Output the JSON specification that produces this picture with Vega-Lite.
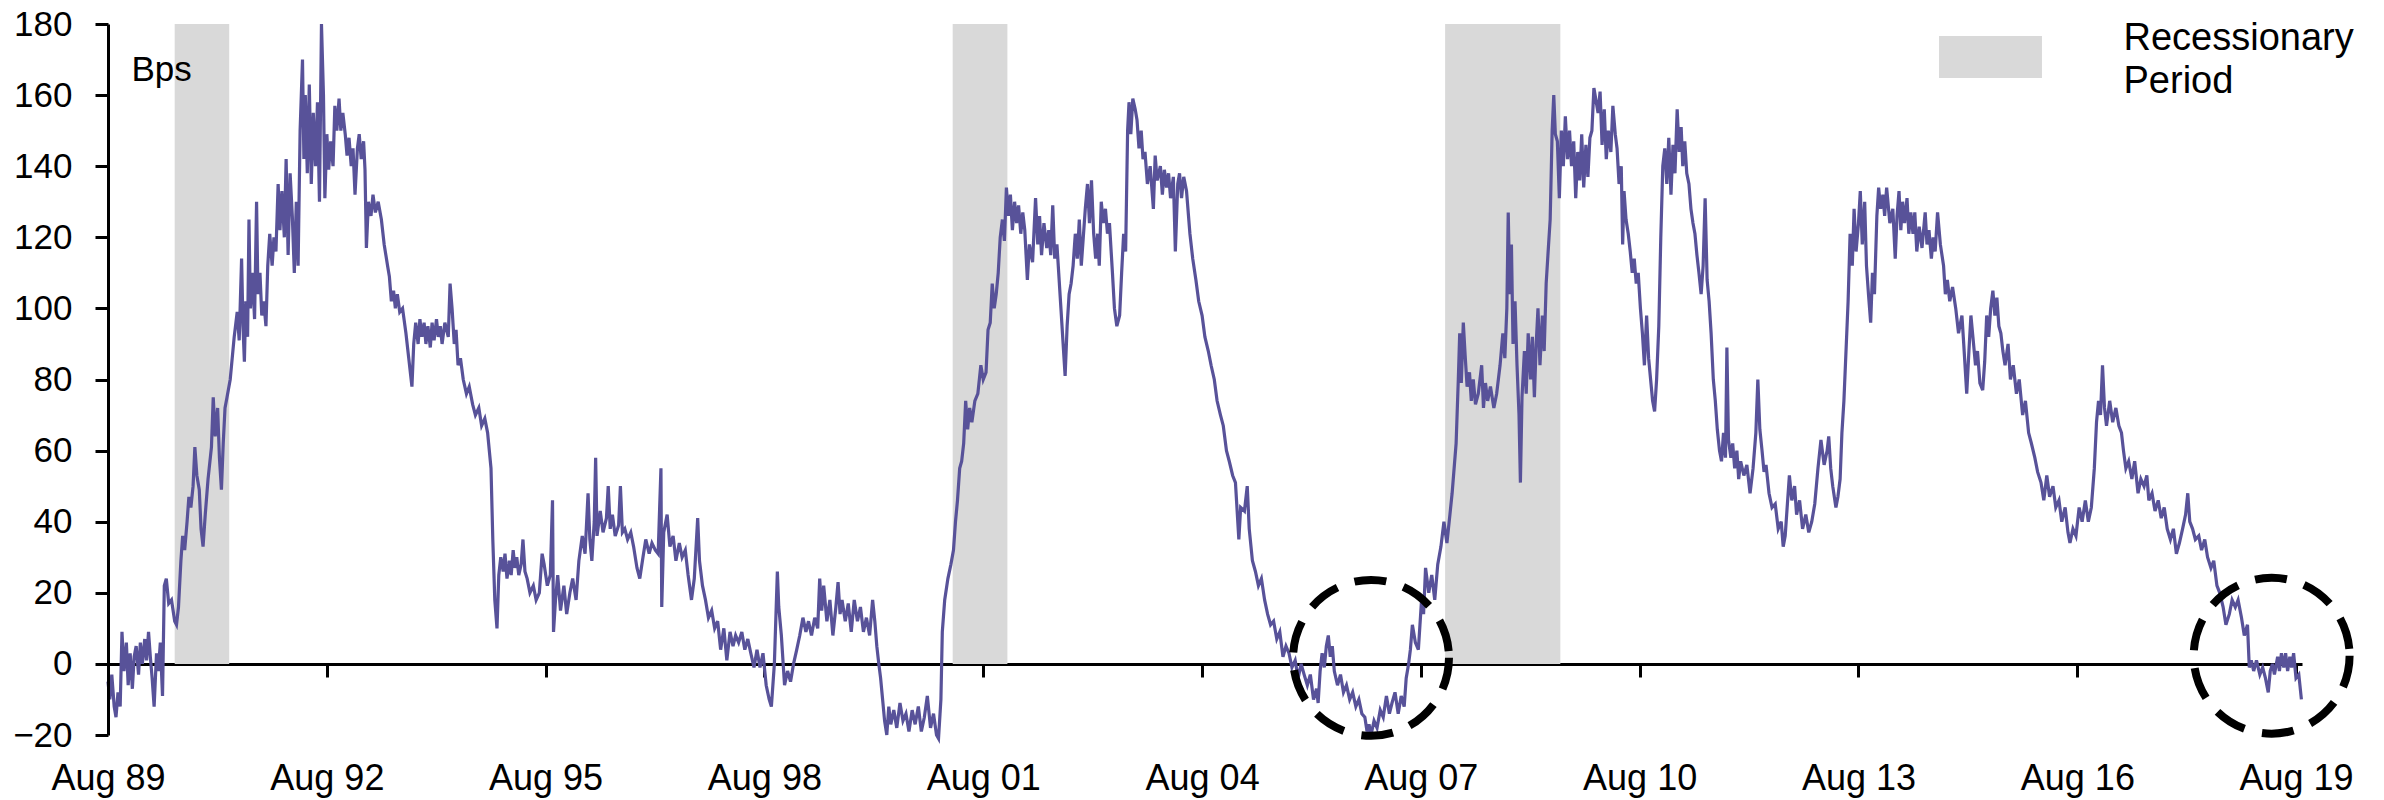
{
"$schema": "https://vega.github.io/schema/vega-lite/v6.json",
"width": 2194,
"height": 711,
"autosize": {"type": "none"},
"padding": {"left": 108, "top": 24, "right": 82, "bottom": 65},
"background": "white",
"config": {"view": {"stroke": null}, "font": "Liberation Sans"},
"datasets": {
"rec": [
{"start": "1990-07-01", "end": "1991-03-31", "label": "Recessionary Period"},
{"start": "2001-03-01", "end": "2001-11-30", "label": "Recessionary Period"},
{"start": "2007-12-01", "end": "2009-06-30", "label": "Recessionary Period"}
],
"circles": [
{"d": "2006-11-25", "v": 1.7},
{"d": "2019-04-01", "v": 2.3}
],
"spread": [
{"d":"1989-08-01","v":-5},{"d":"1989-08-10","v":-10},{"d":"1989-08-20","v":-3},{"d":"1989-09-01","v":-12},{"d":"1989-09-10","v":-15},{"d":"1989-09-20","v":-8},{"d":"1989-10-01","v":-12},{"d":"1989-10-10","v":9},{"d":"1989-10-20","v":-2},{"d":"1989-11-01","v":6},{"d":"1989-11-10","v":-6},{"d":"1989-11-20","v":3},{"d":"1989-12-01","v":-7},{"d":"1989-12-10","v":2},{"d":"1989-12-20","v":5},
{"d":"1990-01-01","v":-3},{"d":"1990-01-10","v":6},{"d":"1990-01-20","v":0},{"d":"1990-02-01","v":7},{"d":"1990-02-10","v":1},{"d":"1990-02-20","v":9},{"d":"1990-03-01","v":2},{"d":"1990-03-10","v":-4},{"d":"1990-03-20","v":-12},{"d":"1990-04-01","v":3},{"d":"1990-04-10","v":-2},{"d":"1990-04-20","v":6},{"d":"1990-05-01","v":-9},{"d":"1990-05-10","v":22},{"d":"1990-05-20","v":24},{"d":"1990-06-01","v":17},{"d":"1990-06-15","v":18},{"d":"1990-07-01","v":12},{"d":"1990-07-10","v":11},{"d":"1990-07-20","v":16},{"d":"1990-08-01","v":29},{"d":"1990-08-10","v":36},{"d":"1990-08-20","v":32},{"d":"1990-09-01","v":40},{"d":"1990-09-10","v":47},{"d":"1990-09-20","v":44},{"d":"1990-10-01","v":50},{"d":"1990-10-10","v":61},{"d":"1990-10-20","v":53},{"d":"1990-11-01","v":49},{"d":"1990-11-10","v":38},{"d":"1990-11-20","v":33},{"d":"1990-12-01","v":42},{"d":"1990-12-15","v":52},
{"d":"1991-01-01","v":61},{"d":"1991-01-10","v":75},{"d":"1991-01-20","v":64},{"d":"1991-02-01","v":72},{"d":"1991-02-10","v":58},{"d":"1991-02-20","v":49},{"d":"1991-03-01","v":62},{"d":"1991-03-10","v":72},{"d":"1991-03-20","v":75},{"d":"1991-04-05","v":80},{"d":"1991-04-15","v":86},{"d":"1991-04-25","v":92},{"d":"1991-05-10","v":99},{"d":"1991-05-20","v":91},{"d":"1991-06-01","v":114},{"d":"1991-06-08","v":95},{"d":"1991-06-15","v":85},{"d":"1991-06-22","v":102},{"d":"1991-07-01","v":92},{"d":"1991-07-08","v":125},{"d":"1991-07-15","v":100},{"d":"1991-07-25","v":110},{"d":"1991-08-05","v":97},{"d":"1991-08-15","v":130},{"d":"1991-08-22","v":104},{"d":"1991-09-01","v":110},{"d":"1991-09-10","v":98},{"d":"1991-09-20","v":102},{"d":"1991-10-01","v":95},{"d":"1991-10-10","v":112},{"d":"1991-10-20","v":121},{"d":"1991-11-01","v":112},{"d":"1991-11-10","v":120},{"d":"1991-11-20","v":116},{"d":"1991-12-01","v":135},{"d":"1991-12-10","v":122},{"d":"1991-12-20","v":133},
{"d":"1992-01-01","v":120},{"d":"1992-01-10","v":142},{"d":"1992-01-20","v":115},{"d":"1992-01-30","v":138},{"d":"1992-02-10","v":126},{"d":"1992-02-20","v":110},{"d":"1992-03-01","v":130},{"d":"1992-03-10","v":112},{"d":"1992-03-20","v":150},{"d":"1992-04-01","v":170},{"d":"1992-04-08","v":142},{"d":"1992-04-15","v":160},{"d":"1992-04-25","v":138},{"d":"1992-05-05","v":163},{"d":"1992-05-15","v":135},{"d":"1992-05-25","v":155},{"d":"1992-06-05","v":140},{"d":"1992-06-15","v":158},{"d":"1992-06-25","v":130},{"d":"1992-07-05","v":180},{"d":"1992-07-15","v":160},{"d":"1992-07-22","v":131},{"d":"1992-08-01","v":149},{"d":"1992-08-10","v":139},{"d":"1992-08-20","v":147},{"d":"1992-09-01","v":140},{"d":"1992-09-10","v":157},{"d":"1992-09-20","v":150},{"d":"1992-10-01","v":159},{"d":"1992-10-10","v":150},{"d":"1992-10-20","v":155},{"d":"1992-11-01","v":149},{"d":"1992-11-10","v":143},{"d":"1992-11-20","v":148},{"d":"1992-12-01","v":140},{"d":"1992-12-10","v":145},{"d":"1992-12-20","v":132},
{"d":"1993-01-01","v":145},{"d":"1993-01-10","v":149},{"d":"1993-01-20","v":142},{"d":"1993-02-01","v":147},{"d":"1993-02-08","v":139},{"d":"1993-02-15","v":117},{"d":"1993-02-25","v":130},{"d":"1993-03-10","v":126},{"d":"1993-03-20","v":132},{"d":"1993-04-01","v":127},{"d":"1993-04-15","v":130},{"d":"1993-05-01","v":125},{"d":"1993-05-15","v":118},{"d":"1993-06-01","v":112},{"d":"1993-06-10","v":109},{"d":"1993-06-20","v":102},{"d":"1993-07-01","v":105},{"d":"1993-07-10","v":100},{"d":"1993-07-20","v":104},{"d":"1993-08-01","v":99},{"d":"1993-08-15","v":100},{"d":"1993-09-01","v":93},{"d":"1993-09-15","v":86},{"d":"1993-10-01","v":78},{"d":"1993-10-10","v":90},{"d":"1993-10-20","v":96},{"d":"1993-11-01","v":90},{"d":"1993-11-10","v":97},{"d":"1993-11-20","v":92},{"d":"1993-12-01","v":96},{"d":"1993-12-10","v":90},{"d":"1993-12-20","v":95},
{"d":"1994-01-01","v":89},{"d":"1994-01-10","v":96},{"d":"1994-01-20","v":91},{"d":"1994-02-01","v":97},{"d":"1994-02-10","v":92},{"d":"1994-02-20","v":95},{"d":"1994-03-01","v":90},{"d":"1994-03-15","v":96},{"d":"1994-04-01","v":92},{"d":"1994-04-10","v":107},{"d":"1994-04-20","v":100},{"d":"1994-05-01","v":90},{"d":"1994-05-10","v":94},{"d":"1994-05-20","v":84},{"d":"1994-06-01","v":86},{"d":"1994-06-15","v":80},{"d":"1994-07-01","v":76},{"d":"1994-07-15","v":78},{"d":"1994-08-01","v":73},{"d":"1994-08-15","v":70},{"d":"1994-09-01","v":72},{"d":"1994-09-15","v":67},{"d":"1994-10-01","v":69},{"d":"1994-10-15","v":65},{"d":"1994-11-01","v":55},{"d":"1994-11-10","v":35},{"d":"1994-11-20","v":18},{"d":"1994-12-01","v":10},{"d":"1994-12-10","v":25},{"d":"1994-12-20","v":30},
{"d":"1995-01-01","v":26},{"d":"1995-01-10","v":31},{"d":"1995-01-20","v":24},{"d":"1995-02-01","v":29},{"d":"1995-02-10","v":25},{"d":"1995-02-20","v":32},{"d":"1995-03-01","v":27},{"d":"1995-03-10","v":30},{"d":"1995-03-20","v":25},{"d":"1995-04-01","v":28},{"d":"1995-04-10","v":35},{"d":"1995-04-20","v":26},{"d":"1995-05-01","v":24},{"d":"1995-05-15","v":20},{"d":"1995-06-01","v":22},{"d":"1995-06-15","v":18},{"d":"1995-07-01","v":20},{"d":"1995-07-15","v":31},{"d":"1995-07-25","v":28},{"d":"1995-08-10","v":22},{"d":"1995-08-25","v":25},{"d":"1995-09-05","v":46},{"d":"1995-09-10","v":9},{"d":"1995-09-20","v":18},{"d":"1995-10-01","v":25},{"d":"1995-10-15","v":15},{"d":"1995-11-01","v":22},{"d":"1995-11-15","v":14},{"d":"1995-12-01","v":20},{"d":"1995-12-15","v":24},
{"d":"1996-01-01","v":18},{"d":"1996-01-15","v":29},{"d":"1996-02-01","v":36},{"d":"1996-02-15","v":31},{"d":"1996-03-01","v":48},{"d":"1996-03-10","v":35},{"d":"1996-03-20","v":29},{"d":"1996-04-01","v":40},{"d":"1996-04-08","v":58},{"d":"1996-04-15","v":36},{"d":"1996-05-01","v":43},{"d":"1996-05-15","v":37},{"d":"1996-06-01","v":41},{"d":"1996-06-10","v":50},{"d":"1996-06-20","v":38},{"d":"1996-07-01","v":42},{"d":"1996-07-15","v":36},{"d":"1996-08-01","v":39},{"d":"1996-08-10","v":50},{"d":"1996-08-20","v":37},{"d":"1996-09-01","v":38},{"d":"1996-09-15","v":35},{"d":"1996-10-01","v":37},{"d":"1996-10-15","v":33},{"d":"1996-11-01","v":27},{"d":"1996-11-15","v":24},{"d":"1996-12-01","v":30},{"d":"1996-12-15","v":35},
{"d":"1997-01-01","v":31},{"d":"1997-01-15","v":34},{"d":"1997-02-01","v":32},{"d":"1997-02-15","v":31},{"d":"1997-03-01","v":55},{"d":"1997-03-05","v":16},{"d":"1997-03-15","v":37},{"d":"1997-04-01","v":42},{"d":"1997-04-15","v":33},{"d":"1997-05-01","v":36},{"d":"1997-05-15","v":29},{"d":"1997-06-01","v":34},{"d":"1997-06-15","v":30},{"d":"1997-07-01","v":32},{"d":"1997-07-15","v":25},{"d":"1997-08-01","v":18},{"d":"1997-08-15","v":24},{"d":"1997-09-01","v":41},{"d":"1997-09-10","v":29},{"d":"1997-09-25","v":22},{"d":"1997-10-10","v":18},{"d":"1997-10-25","v":13},{"d":"1997-11-10","v":15},{"d":"1997-11-25","v":10},{"d":"1997-12-10","v":12},{"d":"1997-12-25","v":4},
{"d":"1998-01-10","v":10},{"d":"1998-01-25","v":1},{"d":"1998-02-10","v":9},{"d":"1998-02-25","v":5},{"d":"1998-03-10","v":8},{"d":"1998-03-25","v":6},{"d":"1998-04-10","v":9},{"d":"1998-04-25","v":4},{"d":"1998-05-10","v":7},{"d":"1998-05-25","v":3},{"d":"1998-06-10","v":-1},{"d":"1998-06-25","v":4},{"d":"1998-07-10","v":-1},{"d":"1998-07-25","v":3},{"d":"1998-08-10","v":-6},{"d":"1998-08-25","v":-10},{"d":"1998-09-05","v":-12},{"d":"1998-09-20","v":0},{"d":"1998-10-05","v":26},{"d":"1998-10-12","v":16},{"d":"1998-10-25","v":8},{"d":"1998-11-10","v":-6},{"d":"1998-11-25","v":-2},{"d":"1998-12-10","v":-5},{"d":"1998-12-25","v":0},
{"d":"1999-01-10","v":4},{"d":"1999-01-25","v":8},{"d":"1999-02-10","v":13},{"d":"1999-02-25","v":9},{"d":"1999-03-10","v":12},{"d":"1999-03-25","v":8},{"d":"1999-04-10","v":13},{"d":"1999-04-25","v":10},{"d":"1999-05-05","v":24},{"d":"1999-05-15","v":15},{"d":"1999-05-25","v":22},{"d":"1999-06-10","v":12},{"d":"1999-06-25","v":18},{"d":"1999-07-10","v":8},{"d":"1999-07-25","v":16},{"d":"1999-08-05","v":23},{"d":"1999-08-15","v":14},{"d":"1999-08-25","v":18},{"d":"1999-09-10","v":12},{"d":"1999-09-25","v":17},{"d":"1999-10-10","v":9},{"d":"1999-10-25","v":18},{"d":"1999-11-10","v":12},{"d":"1999-11-25","v":16},{"d":"1999-12-10","v":9},{"d":"1999-12-25","v":13},
{"d":"2000-01-10","v":8},{"d":"2000-01-25","v":18},{"d":"2000-02-05","v":12},{"d":"2000-02-15","v":5},{"d":"2000-02-25","v":0},{"d":"2000-03-05","v":-4},{"d":"2000-03-15","v":-10},{"d":"2000-03-25","v":-16},{"d":"2000-04-05","v":-20},{"d":"2000-04-15","v":-12},{"d":"2000-04-25","v":-17},{"d":"2000-05-10","v":-13},{"d":"2000-05-25","v":-18},{"d":"2000-06-10","v":-11},{"d":"2000-06-25","v":-16},{"d":"2000-07-10","v":-14},{"d":"2000-07-25","v":-19},{"d":"2000-08-10","v":-13},{"d":"2000-08-25","v":-17},{"d":"2000-09-10","v":-12},{"d":"2000-09-25","v":-19},{"d":"2000-10-10","v":-15},{"d":"2000-10-25","v":-9},{"d":"2000-11-10","v":-18},{"d":"2000-11-25","v":-14},{"d":"2000-12-10","v":-20},{"d":"2000-12-20","v":-21},
{"d":"2001-01-01","v":-10},{"d":"2001-01-08","v":9},{"d":"2001-01-20","v":18},{"d":"2001-02-05","v":24},{"d":"2001-02-20","v":28},{"d":"2001-03-05","v":32},{"d":"2001-03-15","v":40},{"d":"2001-03-25","v":46},{"d":"2001-04-05","v":55},{"d":"2001-04-15","v":57},{"d":"2001-04-25","v":62},{"d":"2001-05-05","v":74},{"d":"2001-05-15","v":66},{"d":"2001-05-25","v":72},{"d":"2001-06-05","v":68},{"d":"2001-06-20","v":74},{"d":"2001-07-05","v":76},{"d":"2001-07-20","v":84},{"d":"2001-08-01","v":80},{"d":"2001-08-15","v":82},{"d":"2001-08-25","v":94},{"d":"2001-09-05","v":96},{"d":"2001-09-15","v":107},{"d":"2001-09-25","v":100},{"d":"2001-10-05","v":104},{"d":"2001-10-15","v":110},{"d":"2001-10-25","v":120},{"d":"2001-11-05","v":125},{"d":"2001-11-15","v":119},{"d":"2001-11-25","v":134},{"d":"2001-12-05","v":126},{"d":"2001-12-15","v":132},{"d":"2001-12-25","v":122},
{"d":"2002-01-05","v":130},{"d":"2002-01-15","v":124},{"d":"2002-01-25","v":129},{"d":"2002-02-05","v":121},{"d":"2002-02-15","v":127},{"d":"2002-02-25","v":122},{"d":"2002-03-10","v":108},{"d":"2002-03-20","v":118},{"d":"2002-04-05","v":113},{"d":"2002-04-20","v":131},{"d":"2002-05-01","v":118},{"d":"2002-05-10","v":126},{"d":"2002-05-20","v":115},{"d":"2002-06-01","v":124},{"d":"2002-06-15","v":117},{"d":"2002-06-25","v":122},{"d":"2002-07-05","v":115},{"d":"2002-07-15","v":129},{"d":"2002-07-25","v":114},{"d":"2002-08-05","v":118},{"d":"2002-08-15","v":109},{"d":"2002-08-25","v":100},{"d":"2002-09-05","v":90},{"d":"2002-09-15","v":81},{"d":"2002-09-25","v":95},{"d":"2002-10-05","v":104},{"d":"2002-10-15","v":107},{"d":"2002-10-25","v":112},{"d":"2002-11-05","v":121},{"d":"2002-11-15","v":114},{"d":"2002-11-25","v":125},{"d":"2002-12-05","v":112},{"d":"2002-12-15","v":120},{"d":"2002-12-25","v":128},
{"d":"2003-01-05","v":135},{"d":"2003-01-15","v":124},{"d":"2003-01-25","v":136},{"d":"2003-02-05","v":121},{"d":"2003-02-15","v":114},{"d":"2003-02-25","v":121},{"d":"2003-03-05","v":112},{"d":"2003-03-15","v":130},{"d":"2003-03-25","v":124},{"d":"2003-04-05","v":128},{"d":"2003-04-15","v":121},{"d":"2003-04-25","v":124},{"d":"2003-05-10","v":110},{"d":"2003-05-20","v":100},{"d":"2003-06-01","v":95},{"d":"2003-06-15","v":98},{"d":"2003-06-25","v":110},{"d":"2003-07-05","v":121},{"d":"2003-07-15","v":116},{"d":"2003-07-25","v":150},{"d":"2003-08-01","v":158},{"d":"2003-08-10","v":149},{"d":"2003-08-20","v":159},{"d":"2003-09-01","v":156},{"d":"2003-09-10","v":153},{"d":"2003-09-20","v":145},{"d":"2003-10-01","v":150},{"d":"2003-10-10","v":142},{"d":"2003-10-20","v":144},{"d":"2003-11-01","v":135},{"d":"2003-11-15","v":140},{"d":"2003-12-01","v":128},{"d":"2003-12-10","v":143},{"d":"2003-12-20","v":136},
{"d":"2004-01-05","v":140},{"d":"2004-01-15","v":132},{"d":"2004-01-25","v":139},{"d":"2004-02-05","v":134},{"d":"2004-02-15","v":138},{"d":"2004-02-25","v":131},{"d":"2004-03-10","v":137},{"d":"2004-03-20","v":116},{"d":"2004-04-01","v":135},{"d":"2004-04-10","v":138},{"d":"2004-04-20","v":131},{"d":"2004-05-01","v":137},{"d":"2004-05-15","v":133},{"d":"2004-06-01","v":121},{"d":"2004-06-15","v":114},{"d":"2004-07-01","v":108},{"d":"2004-07-15","v":102},{"d":"2004-08-01","v":98},{"d":"2004-08-15","v":92},{"d":"2004-09-01","v":88},{"d":"2004-09-15","v":84},{"d":"2004-10-01","v":80},{"d":"2004-10-15","v":74},{"d":"2004-11-01","v":70},{"d":"2004-11-15","v":67},{"d":"2004-12-01","v":60},{"d":"2004-12-15","v":57},
{"d":"2005-01-01","v":53},{"d":"2005-01-15","v":51},{"d":"2005-02-01","v":35},{"d":"2005-02-10","v":44},{"d":"2005-03-01","v":43},{"d":"2005-03-15","v":50},{"d":"2005-03-25","v":38},{"d":"2005-04-10","v":29},{"d":"2005-04-25","v":26},{"d":"2005-05-10","v":22},{"d":"2005-05-25","v":24},{"d":"2005-06-10","v":18},{"d":"2005-06-25","v":14},{"d":"2005-07-10","v":11},{"d":"2005-07-25","v":12},{"d":"2005-08-10","v":7},{"d":"2005-08-25","v":9},{"d":"2005-09-10","v":2},{"d":"2005-09-25","v":5},{"d":"2005-10-10","v":3},{"d":"2005-10-25","v":-1},{"d":"2005-11-10","v":1},{"d":"2005-11-25","v":-4},{"d":"2005-12-10","v":0},{"d":"2005-12-25","v":-3},
{"d":"2006-01-10","v":-6},{"d":"2006-01-25","v":-3},{"d":"2006-02-10","v":-10},{"d":"2006-02-25","v":-7},{"d":"2006-03-05","v":-11},{"d":"2006-03-15","v":-2},{"d":"2006-03-25","v":3},{"d":"2006-04-05","v":-1},{"d":"2006-04-15","v":5},{"d":"2006-04-25","v":8},{"d":"2006-05-05","v":2},{"d":"2006-05-15","v":5},{"d":"2006-05-25","v":-2},{"d":"2006-06-10","v":-6},{"d":"2006-06-25","v":-3},{"d":"2006-07-10","v":-8},{"d":"2006-07-25","v":-6},{"d":"2006-08-10","v":-10},{"d":"2006-08-25","v":-8},{"d":"2006-09-10","v":-12},{"d":"2006-09-25","v":-10},{"d":"2006-10-10","v":-14},{"d":"2006-10-25","v":-15},{"d":"2006-11-05","v":-19},{"d":"2006-11-15","v":-17},{"d":"2006-11-25","v":-20},{"d":"2006-12-10","v":-16},{"d":"2006-12-25","v":-18},
{"d":"2007-01-10","v":-13},{"d":"2007-01-25","v":-15},{"d":"2007-02-10","v":-9},{"d":"2007-02-25","v":-14},{"d":"2007-03-10","v":-11},{"d":"2007-03-25","v":-8},{"d":"2007-04-10","v":-14},{"d":"2007-04-25","v":-9},{"d":"2007-05-10","v":-12},{"d":"2007-05-20","v":-4},{"d":"2007-06-01","v":0},{"d":"2007-06-10","v":4},{"d":"2007-06-20","v":11},{"d":"2007-07-05","v":6},{"d":"2007-07-20","v":4},{"d":"2007-08-05","v":18},{"d":"2007-08-15","v":14},{"d":"2007-08-25","v":27},{"d":"2007-09-10","v":20},{"d":"2007-09-25","v":25},{"d":"2007-10-10","v":18},{"d":"2007-10-25","v":28},{"d":"2007-11-10","v":33},{"d":"2007-11-25","v":40},{"d":"2007-12-10","v":34},{"d":"2007-12-25","v":42},
{"d":"2008-01-05","v":48},{"d":"2008-01-15","v":55},{"d":"2008-01-25","v":62},{"d":"2008-02-05","v":80},{"d":"2008-02-12","v":93},{"d":"2008-02-20","v":79},{"d":"2008-03-01","v":96},{"d":"2008-03-10","v":87},{"d":"2008-03-20","v":78},{"d":"2008-04-01","v":82},{"d":"2008-04-10","v":74},{"d":"2008-04-20","v":80},{"d":"2008-05-01","v":73},{"d":"2008-05-15","v":76},{"d":"2008-06-01","v":84},{"d":"2008-06-10","v":72},{"d":"2008-06-20","v":79},{"d":"2008-07-01","v":74},{"d":"2008-07-15","v":78},{"d":"2008-08-01","v":72},{"d":"2008-08-15","v":76},{"d":"2008-09-01","v":84},{"d":"2008-09-15","v":93},{"d":"2008-09-25","v":86},{"d":"2008-10-05","v":100},{"d":"2008-10-12","v":127},{"d":"2008-10-20","v":104},{"d":"2008-10-28","v":118},{"d":"2008-11-05","v":90},{"d":"2008-11-15","v":102},{"d":"2008-11-25","v":84},{"d":"2008-12-05","v":70},{"d":"2008-12-12","v":51},{"d":"2008-12-20","v":75},
{"d":"2009-01-01","v":88},{"d":"2009-01-10","v":76},{"d":"2009-01-20","v":93},{"d":"2009-02-01","v":80},{"d":"2009-02-10","v":92},{"d":"2009-02-20","v":75},{"d":"2009-03-01","v":90},{"d":"2009-03-10","v":100},{"d":"2009-03-20","v":84},{"d":"2009-04-01","v":98},{"d":"2009-04-10","v":88},{"d":"2009-04-20","v":107},{"d":"2009-05-01","v":117},{"d":"2009-05-10","v":125},{"d":"2009-05-20","v":150},{"d":"2009-05-28","v":160},{"d":"2009-06-05","v":149},{"d":"2009-06-15","v":147},{"d":"2009-06-25","v":131},{"d":"2009-07-05","v":150},{"d":"2009-07-15","v":140},{"d":"2009-07-25","v":154},{"d":"2009-08-05","v":142},{"d":"2009-08-15","v":150},{"d":"2009-08-25","v":140},{"d":"2009-09-05","v":147},{"d":"2009-09-15","v":131},{"d":"2009-09-25","v":144},{"d":"2009-10-05","v":136},{"d":"2009-10-15","v":149},{"d":"2009-10-25","v":134},{"d":"2009-11-05","v":146},{"d":"2009-11-15","v":137},{"d":"2009-11-25","v":148},{"d":"2009-12-05","v":150},{"d":"2009-12-15","v":162},
{"d":"2010-01-05","v":155},{"d":"2010-01-15","v":161},{"d":"2010-01-25","v":146},{"d":"2010-02-05","v":156},{"d":"2010-02-15","v":142},{"d":"2010-02-25","v":150},{"d":"2010-03-10","v":144},{"d":"2010-03-20","v":157},{"d":"2010-04-01","v":149},{"d":"2010-04-10","v":145},{"d":"2010-04-20","v":135},{"d":"2010-05-01","v":140},{"d":"2010-05-08","v":118},{"d":"2010-05-15","v":133},{"d":"2010-05-25","v":125},{"d":"2010-06-05","v":121},{"d":"2010-06-15","v":116},{"d":"2010-06-25","v":110},{"d":"2010-07-05","v":114},{"d":"2010-07-15","v":107},{"d":"2010-07-25","v":110},{"d":"2010-08-05","v":100},{"d":"2010-08-15","v":93},{"d":"2010-08-25","v":84},{"d":"2010-09-05","v":98},{"d":"2010-09-15","v":86},{"d":"2010-09-25","v":80},{"d":"2010-10-05","v":74},{"d":"2010-10-15","v":71},{"d":"2010-10-25","v":80},{"d":"2010-11-05","v":95},{"d":"2010-11-15","v":120},{"d":"2010-11-25","v":140},{"d":"2010-12-05","v":145},{"d":"2010-12-15","v":135},{"d":"2010-12-25","v":148},
{"d":"2011-01-05","v":132},{"d":"2011-01-15","v":146},{"d":"2011-01-25","v":138},{"d":"2011-02-05","v":156},{"d":"2011-02-15","v":144},{"d":"2011-02-25","v":151},{"d":"2011-03-05","v":140},{"d":"2011-03-15","v":147},{"d":"2011-03-25","v":138},{"d":"2011-04-05","v":135},{"d":"2011-04-15","v":128},{"d":"2011-04-25","v":124},{"d":"2011-05-05","v":121},{"d":"2011-05-15","v":115},{"d":"2011-05-25","v":110},{"d":"2011-06-05","v":104},{"d":"2011-06-15","v":112},{"d":"2011-06-25","v":131},{"d":"2011-07-05","v":108},{"d":"2011-07-15","v":102},{"d":"2011-07-25","v":93},{"d":"2011-08-05","v":80},{"d":"2011-08-15","v":74},{"d":"2011-08-25","v":66},{"d":"2011-09-05","v":60},{"d":"2011-09-15","v":57},{"d":"2011-09-25","v":65},{"d":"2011-10-05","v":58},{"d":"2011-10-12","v":89},{"d":"2011-10-20","v":63},{"d":"2011-11-01","v":58},{"d":"2011-11-10","v":62},{"d":"2011-11-20","v":55},{"d":"2011-12-01","v":60},{"d":"2011-12-10","v":52},{"d":"2011-12-20","v":57},
{"d":"2012-01-05","v":53},{"d":"2012-01-20","v":56},{"d":"2012-02-05","v":48},{"d":"2012-02-20","v":55},{"d":"2012-03-05","v":65},{"d":"2012-03-15","v":80},{"d":"2012-03-25","v":66},{"d":"2012-04-05","v":60},{"d":"2012-04-15","v":54},{"d":"2012-04-25","v":56},{"d":"2012-05-10","v":48},{"d":"2012-05-25","v":44},{"d":"2012-06-10","v":45},{"d":"2012-06-25","v":38},{"d":"2012-07-10","v":40},{"d":"2012-07-20","v":33},{"d":"2012-07-30","v":36},{"d":"2012-08-10","v":45},{"d":"2012-08-20","v":53},{"d":"2012-09-01","v":46},{"d":"2012-09-15","v":50},{"d":"2012-09-25","v":42},{"d":"2012-10-10","v":46},{"d":"2012-10-25","v":38},{"d":"2012-11-10","v":42},{"d":"2012-11-25","v":37},{"d":"2012-12-10","v":40},{"d":"2012-12-25","v":45},
{"d":"2013-01-10","v":55},{"d":"2013-01-25","v":63},{"d":"2013-02-10","v":56},{"d":"2013-02-25","v":60},{"d":"2013-03-05","v":64},{"d":"2013-03-15","v":55},{"d":"2013-03-25","v":50},{"d":"2013-04-10","v":44},{"d":"2013-04-20","v":47},{"d":"2013-05-01","v":52},{"d":"2013-05-10","v":65},{"d":"2013-05-20","v":74},{"d":"2013-06-01","v":90},{"d":"2013-06-10","v":102},{"d":"2013-06-20","v":121},{"d":"2013-07-01","v":112},{"d":"2013-07-10","v":128},{"d":"2013-07-20","v":116},{"d":"2013-08-01","v":124},{"d":"2013-08-10","v":133},{"d":"2013-08-20","v":118},{"d":"2013-09-01","v":130},{"d":"2013-09-10","v":112},{"d":"2013-09-20","v":104},{"d":"2013-10-01","v":96},{"d":"2013-10-10","v":110},{"d":"2013-10-20","v":104},{"d":"2013-11-01","v":126},{"d":"2013-11-10","v":134},{"d":"2013-11-20","v":128},{"d":"2013-12-01","v":132},{"d":"2013-12-10","v":126},{"d":"2013-12-20","v":134},
{"d":"2014-01-05","v":124},{"d":"2014-01-20","v":128},{"d":"2014-02-01","v":114},{"d":"2014-02-10","v":126},{"d":"2014-02-20","v":133},{"d":"2014-03-01","v":122},{"d":"2014-03-10","v":130},{"d":"2014-03-20","v":124},{"d":"2014-04-01","v":131},{"d":"2014-04-10","v":121},{"d":"2014-04-20","v":127},{"d":"2014-05-01","v":121},{"d":"2014-05-10","v":127},{"d":"2014-05-20","v":116},{"d":"2014-06-01","v":123},{"d":"2014-06-15","v":117},{"d":"2014-07-01","v":127},{"d":"2014-07-10","v":118},{"d":"2014-07-20","v":122},{"d":"2014-08-01","v":114},{"d":"2014-08-10","v":120},{"d":"2014-08-20","v":116},{"d":"2014-09-01","v":127},{"d":"2014-09-15","v":118},{"d":"2014-10-01","v":112},{"d":"2014-10-10","v":104},{"d":"2014-10-20","v":108},{"d":"2014-11-01","v":102},{"d":"2014-11-15","v":106},{"d":"2014-12-01","v":100},{"d":"2014-12-15","v":93},
{"d":"2015-01-01","v":98},{"d":"2015-01-10","v":90},{"d":"2015-01-25","v":76},{"d":"2015-02-05","v":88},{"d":"2015-02-15","v":98},{"d":"2015-02-25","v":92},{"d":"2015-03-10","v":84},{"d":"2015-03-20","v":88},{"d":"2015-04-01","v":79},{"d":"2015-04-15","v":77},{"d":"2015-04-25","v":85},{"d":"2015-05-05","v":98},{"d":"2015-05-15","v":92},{"d":"2015-05-25","v":100},{"d":"2015-06-05","v":105},{"d":"2015-06-15","v":98},{"d":"2015-06-25","v":103},{"d":"2015-07-05","v":95},{"d":"2015-07-15","v":93},{"d":"2015-07-25","v":88},{"d":"2015-08-05","v":84},{"d":"2015-08-20","v":90},{"d":"2015-09-01","v":80},{"d":"2015-09-15","v":84},{"d":"2015-10-01","v":76},{"d":"2015-10-15","v":80},{"d":"2015-11-01","v":70},{"d":"2015-11-15","v":74},{"d":"2015-12-01","v":65},{"d":"2015-12-15","v":62},
{"d":"2016-01-01","v":58},{"d":"2016-01-15","v":54},{"d":"2016-02-01","v":51},{"d":"2016-02-15","v":46},{"d":"2016-03-01","v":53},{"d":"2016-03-15","v":47},{"d":"2016-04-01","v":50},{"d":"2016-04-15","v":44},{"d":"2016-05-01","v":46},{"d":"2016-05-15","v":40},{"d":"2016-06-01","v":44},{"d":"2016-06-15","v":37},{"d":"2016-06-25","v":34},{"d":"2016-07-10","v":38},{"d":"2016-07-25","v":36},{"d":"2016-08-10","v":44},{"d":"2016-08-25","v":40},{"d":"2016-09-10","v":46},{"d":"2016-09-25","v":40},{"d":"2016-10-10","v":44},{"d":"2016-10-25","v":55},{"d":"2016-11-05","v":68},{"d":"2016-11-15","v":74},{"d":"2016-11-25","v":70},{"d":"2016-12-05","v":84},{"d":"2016-12-15","v":72},{"d":"2016-12-25","v":67},
{"d":"2017-01-10","v":74},{"d":"2017-01-25","v":68},{"d":"2017-02-10","v":72},{"d":"2017-02-25","v":67},{"d":"2017-03-10","v":65},{"d":"2017-03-20","v":60},{"d":"2017-04-01","v":55},{"d":"2017-04-15","v":57},{"d":"2017-05-01","v":52},{"d":"2017-05-15","v":57},{"d":"2017-06-01","v":48},{"d":"2017-06-15","v":52},{"d":"2017-07-01","v":50},{"d":"2017-07-15","v":53},{"d":"2017-07-25","v":46},{"d":"2017-08-10","v":48},{"d":"2017-08-25","v":43},{"d":"2017-09-10","v":46},{"d":"2017-09-25","v":41},{"d":"2017-10-10","v":44},{"d":"2017-10-25","v":38},{"d":"2017-11-10","v":35},{"d":"2017-11-25","v":38},{"d":"2017-12-10","v":31},{"d":"2017-12-25","v":34},
{"d":"2018-01-10","v":38},{"d":"2018-01-25","v":42},{"d":"2018-02-05","v":48},{"d":"2018-02-15","v":40},{"d":"2018-03-01","v":38},{"d":"2018-03-15","v":35},{"d":"2018-04-01","v":36},{"d":"2018-04-15","v":32},{"d":"2018-05-01","v":35},{"d":"2018-05-15","v":30},{"d":"2018-06-01","v":27},{"d":"2018-06-15","v":29},{"d":"2018-07-01","v":22},{"d":"2018-07-15","v":20},{"d":"2018-08-01","v":16},{"d":"2018-08-15","v":11},{"d":"2018-09-01","v":14},{"d":"2018-09-15","v":18},{"d":"2018-10-01","v":16},{"d":"2018-10-15","v":18},{"d":"2018-11-01","v":13},{"d":"2018-11-15","v":8},{"d":"2018-12-01","v":11},{"d":"2018-12-10","v":-1},{"d":"2018-12-20","v":1},
{"d":"2019-01-01","v":-2},{"d":"2019-01-15","v":1},{"d":"2019-02-01","v":-3},{"d":"2019-02-15","v":-1},{"d":"2019-03-01","v":-4},{"d":"2019-03-15","v":-8},{"d":"2019-03-25","v":-2},{"d":"2019-04-05","v":0},{"d":"2019-04-15","v":-3},{"d":"2019-05-01","v":2},{"d":"2019-05-10","v":-2},{"d":"2019-05-20","v":3},{"d":"2019-06-01","v":-1},{"d":"2019-06-10","v":3},{"d":"2019-06-20","v":-2},{"d":"2019-07-01","v":2},{"d":"2019-07-10","v":-1},{"d":"2019-07-20","v":3},{"d":"2019-08-01","v":-4},{"d":"2019-08-15","v":-3},{"d":"2019-08-28","v":-10}
]
},
"layer": [
{
"data": {"name": "rec"},
"mark": {"type": "rect"},
"encoding": {
"x": {"field": "start", "type": "temporal", "title": null, "scale": {"domain": [{"year": 1989, "month": 8, "date": 1}, {"year": 2019, "month": 8, "date": 31}], "nice": false}},
"x2": {"field": "end"},
"y": {"datum": 0, "type": "quantitative", "title": "Bps", "scale": {"domain": [-20, 180], "nice": false}},
"y2": {"datum": 180},
"color": {"field": "label", "type": "nominal", "scale": {"range": ["#d9d9d9"]},
"legend": {"title": null, "orient": "none", "legendX": 1861.5, "legendY": 12, "padding": 0,
"symbolType": "M-2.45,-1H2.45V1H-2.45Z", "symbolSize": 1764, "symbolStrokeWidth": 0, "symbolFillColor": "#e0e0e0",
"labelFontSize": 38, "labelColor": "black", "labelLimit": 600, "labelOffset": 112,
"labelExpr": "split(datum.label, ' ')",
"encode": {"labels": {"update": {"lineHeight": {"value": 43}, "dy": {"value": -18}}}}}}
}
},
{
"data": {"name": "spread"},
"mark": {"type": "line", "color": "#585299", "strokeWidth": 3.2, "interpolate": "linear"},
"encoding": {
"x": {"field": "d", "type": "temporal", "title": null,
"scale": {"domain": [{"year": 1989, "month": 8, "date": 1}, {"year": 2019, "month": 8, "date": 31}], "nice": false},
"axis": {"values": [{"year": 1989, "month": 8, "date": 1}, {"year": 1992, "month": 8, "date": 1}, {"year": 1995, "month": 8, "date": 1}, {"year": 1998, "month": 8, "date": 1}, {"year": 2001, "month": 8, "date": 1}, {"year": 2004, "month": 8, "date": 1}, {"year": 2007, "month": 8, "date": 1}, {"year": 2010, "month": 8, "date": 1}, {"year": 2013, "month": 8, "date": 1}, {"year": 2016, "month": 8, "date": 1}, {"year": 2019, "month": 8, "date": 1}],
"format": "%b %y", "offset": -71, "grid": false,
"domainColor": "black", "domainWidth": 3, "tickColor": "black", "tickWidth": 3, "tickSize": 13,
"labelFontSize": 36, "labelColor": "black", "labelPadding": 84, "labelFlush": false, "labelOverlap": false, "labelBound": false}},
"y": {"field": "v", "type": "quantitative", "title": "Bps",
"scale": {"domain": [-20, 180], "nice": false},
"axis": {"values": [-20, 0, 20, 40, 60, 80, 100, 120, 140, 160, 180], "grid": false, "zindex": 1,
"domainColor": "black", "domainWidth": 3, "tickColor": "black", "tickWidth": 3, "tickSize": 13,
"labelFontSize": 35, "labelColor": "black", "labelPadding": 23,
"titleAngle": 0, "titleAlign": "left", "titleBaseline": "top", "titleX": 23, "titleY": 28, "titleLimit": 300,
"titleFontSize": 35, "titleFontWeight": "normal", "titleColor": "black"}}
}
},
{
"data": {"name": "circles"},
"mark": {"type": "point", "shape": "circle", "filled": false, "size": 24300, "strokeWidth": 8, "strokeDash": [32, 18], "color": "black", "opacity": 1},
"encoding": {
"x": {"field": "d", "type": "temporal", "title": null},
"y": {"field": "v", "type": "quantitative", "title": "Bps"}
}
}
]
}
